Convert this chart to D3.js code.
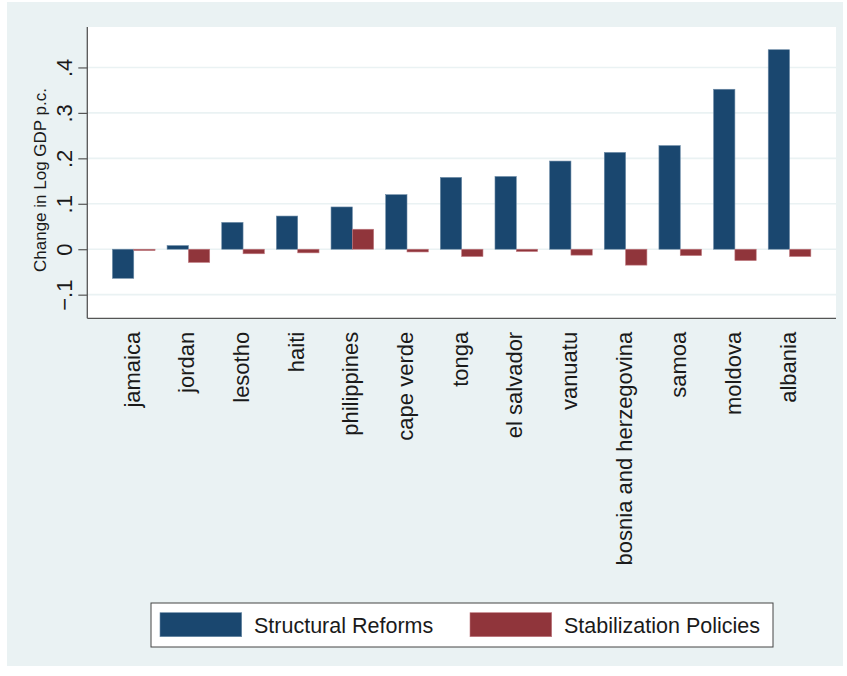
<!DOCTYPE html>
<html>
<head>
<meta charset="utf-8">
<script src="https://cdn.jsdelivr.net/npm/d3@7"></script>
<style>
	body { margin: 0; background: #ffffff; }
	text { font-family: "Liberation Sans", Arial, Helvetica, sans-serif; fill: #1a1a1a; }
</style>
</head>
<body>
<div id="chart"></div>
<script>

//countries, sorted by structural reforms
const countries = ["jamaica", "jordan", "lesotho", "haiti", "philippines", "cape verde", "tonga",
	"el salvador", "vanuatu", "bosnia and herzegovina", "samoa", "moldova", "albania"]

//change in log GDP p.c.
const structuralReforms = [-0.064, 0.008, 0.059, 0.073, 0.093, 0.120, 0.158, 0.160, 0.194, 0.213, 0.228, 0.352, 0.439]
const stabilizationPolicies = [-0.003, -0.029, -0.010, -0.008, 0.044, -0.006, -0.016, -0.005, -0.013, -0.035, -0.014, -0.025, -0.016]

const yTicks = [-0.1, 0, 0.1, 0.2, 0.3, 0.4]
const seriesNames = ["Structural Reforms", "Stabilization Policies"]
const seriesColors = ["#1a476f", "#90353b"]
const seriesStrokes = ["#6b8aa6", "#c07a80"]

const w = 847, h = 676

//plot region (stata style)
const plot = { left: 87.3, right: 836, top: 27, bottom: 318.3 }

let svg = d3.select("#chart").append("svg")
	.attr("width", w)
	.attr("height", h)

//graph region background
svg.append("rect")
	.attr("x", 7).attr("y", 2)
	.attr("width", 836).attr("height", 664)
	.attr("fill", "#eaf2f3")

svg.append("rect")
	.attr("x", plot.left).attr("y", plot.top)
	.attr("width", plot.right - plot.left).attr("height", plot.bottom - plot.top)
	.attr("fill", "#ffffff")

//scales
let y = d3.scaleLinear()
	.domain([-0.152, 0.489])
	.range([plot.bottom, plot.top])

let x = d3.scalePoint()
	.domain(countries)
	.range([plot.left, plot.right])
	.padding(0.85)

const barW = x.step() * 0.39

//gridlines
svg.append("g")
	.selectAll("line")
	.data(yTicks)
	.join("line")
	.attr("x1", plot.left).attr("x2", plot.right)
	.attr("y1", d => y(d)).attr("y2", d => y(d))
	.attr("stroke", "#eaf2f3")
	.attr("stroke-width", 1.6)

//bars, one row per country
let rows = countries.map((c, i) => ({
	country: c,
	values: [structuralReforms[i], stabilizationPolicies[i]]
}))

let groups = svg.append("g")
	.selectAll("g")
	.data(rows)
	.join("g")
	.attr("transform", d => `translate(${x(d.country)},0)`)

groups.selectAll("rect")
	.data(d => d.values)
	.join("rect")
	.attr("x", (d, i) => i == 0 ? -barW : 0)
	.attr("width", barW)
	.attr("y", d => y(Math.max(0, d)))
	.attr("height", d => Math.abs(y(d) - y(0)))
	.attr("fill", (d, i) => seriesColors[i])
	.attr("stroke", (d, i) => seriesStrokes[i])
	.attr("stroke-width", 0.6)

//y axis
let yAxis = svg.append("g")
	.attr("transform", `translate(${plot.left},0)`)
	.call(d3.axisLeft(y)
		.tickValues(yTicks)
		.tickSize(9)
		.tickPadding(0)
		.tickFormat(d => d == 0 ? "0" : d3.format(".1f")(d).replace("0.", ".")))

yAxis.select(".domain").attr("stroke", "#555").attr("stroke-width", 1.3)
	.attr("d", `M0,${plot.top}V${plot.bottom}`)
yAxis.selectAll(".tick line").attr("stroke", "#555").attr("stroke-width", 1.2)
yAxis.selectAll(".tick text")
	.attr("x", 0).attr("y", 0).attr("dy", 0)
	.attr("transform", "translate(-15.5,0) rotate(-90)")
	.attr("text-anchor", "middle")
	.style("font-size", "22px")
	.style("font-family", "Liberation Sans, Arial, sans-serif")
	.attr("fill", "#1a1a1a")

//x axis (no ticks, just labels)
let xAxis = svg.append("g")
	.attr("transform", `translate(0,${plot.bottom})`)
	.call(d3.axisBottom(x).tickSize(0).tickPadding(0))

xAxis.select(".domain").attr("stroke", "#555").attr("stroke-width", 1.3)
	.attr("d", `M${plot.left},0H${plot.right}`)
xAxis.selectAll(".tick text")
	.attr("x", 0).attr("y", 0).attr("dy", "0.25em")
	.attr("transform", "translate(0,13.5) rotate(-90)")
	.attr("text-anchor", "end")
	.style("font-size", "22px")
	.style("font-family", "Liberation Sans, Arial, sans-serif")
	.attr("fill", "#1a1a1a")

//y title
svg.append("text")
	.attr("transform", "translate(46,180) rotate(-90)")
	.attr("text-anchor", "middle")
	.style("font-size", "17px")
	.text("Change in Log GDP p.c.")

//legend
let legend = svg.append("g")

legend.append("rect")
	.attr("x", 151).attr("y", 603)
	.attr("width", 622).attr("height", 44)
	.attr("fill", "#ffffff")
	.attr("stroke", "#444")
	.attr("stroke-width", 1)

const legendX = [160, 470]

seriesNames.forEach((name, i) => {
	legend.append("rect")
		.attr("x", legendX[i]).attr("y", 612.7)
		.attr("width", 81.7).attr("height", 24)
		.attr("fill", seriesColors[i])
		.attr("stroke", seriesStrokes[i])
		.attr("stroke-width", 0.6)
	legend.append("text")
		.attr("x", legendX[i] + 94).attr("y", 633)
		.style("font-size", "21.5px")
		.text(name)
})

</script>
</body>
</html>
